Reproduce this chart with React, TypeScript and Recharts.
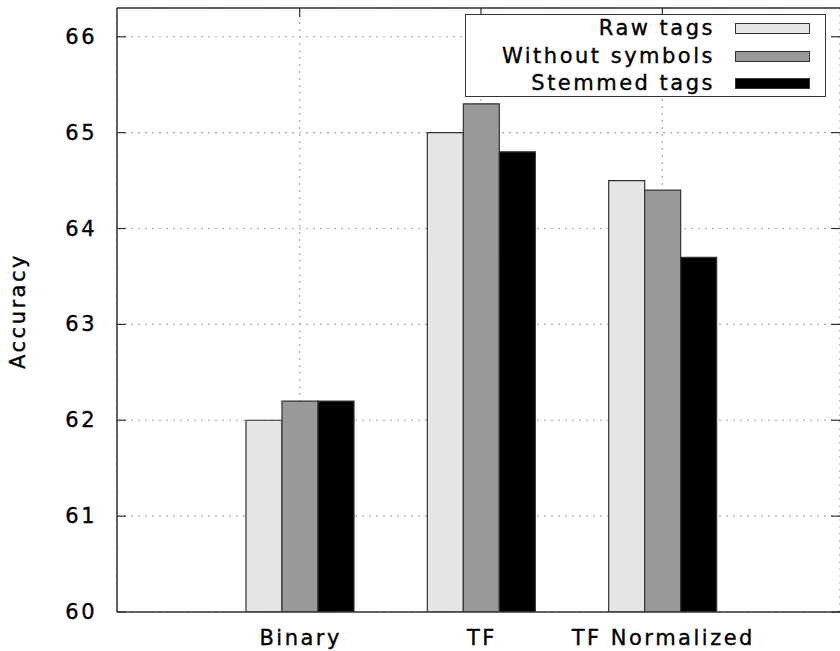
import React, { useEffect } from 'react';
import { BarChart, Bar, XAxis, YAxis, CartesianGrid, ReferenceLine } from 'recharts';

const categories = ['Binary', 'TF', 'TF Normalized'];
const rawTags = [62.0, 65.0, 64.5];
const withoutSymbols = [62.2, 65.3, 64.4];
const stemmedTags = [62.2, 64.8, 63.7];
const yTicks = [60, 61, 62, 63, 64, 65, 66];

const seriesInfo = [
  { key: 'raw', name: 'Raw tags', color: '#e5e5e5' },
  { key: 'nosym', name: 'Without symbols', color: '#999999' },
  { key: 'stem', name: 'Stemmed tags', color: '#000000' },
];

const FONT = '"DejaVu Sans", Verdana, sans-serif';
const PLOT_LEFT = 117;
const PLOT_TOP = 8;
const PLOT_RIGHT = 840;

const data = categories.map((name, i) => ({
  name,
  raw: rawTags[i],
  nosym: withoutSymbols[i],
  stem: stemmedTags[i],
}));

const textStyle = {
  fontFamily: FONT,
  fontSize: 21,
  letterSpacing: 2.5,
  fill: '#000',
  stroke: '#000',
  strokeWidth: 0.35,
};

const YTick = (props: any) => {
  const { y, payload } = props;
  return (
    <g>
      <line x1={PLOT_LEFT} x2={PLOT_LEFT + 9} y1={y} y2={y} stroke="#333" strokeWidth={1.2} />
      <line x1={PLOT_RIGHT - 9} x2={PLOT_RIGHT} y1={y} y2={y} stroke="#333" strokeWidth={1.2} />
      <text x={97} y={y + 7} textAnchor="end" style={textStyle}>
        {payload.value}
      </text>
    </g>
  );
};

const XTick = (props: any) => {
  const { x, payload } = props;
  return (
    <g>
      <line x1={x} x2={x} y1={PLOT_TOP} y2={PLOT_TOP + 9} stroke="#333" strokeWidth={1.2} />
      <text x={x + 1} y={645} textAnchor="middle" style={textStyle}>
        {payload.value}
      </text>
    </g>
  );
};

const LegendBox = () => (
  <div
    style={{
      position: 'absolute',
      left: 465,
      top: 14,
      width: 361,
      height: 83,
      border: '1.5px solid #333',
      background: '#fff',
      fontFamily: FONT,
      fontSize: 21,
      letterSpacing: 2.5,
      color: '#000',
      WebkitTextStroke: '0.35px #000',
      boxSizing: 'border-box',
    }}
  >
    {seriesInfo.map(s => (
      <div
        key={s.key}
        style={{ display: 'flex', justifyContent: 'flex-end', alignItems: 'center', height: 27.5, lineHeight: '27px' }}
      >
        <span>{s.name}</span>
        <span
          style={{
            display: 'inline-block',
            width: 73,
            height: 9,
            background: s.color,
            border: '1.5px solid #333',
            marginLeft: 20,
            marginRight: 15,
          }}
        />
      </div>
    ))}
  </div>
);

export default function App() {
  useEffect(() => {
    document.documentElement.style.overflow = 'hidden';
    document.body.style.overflow = 'hidden';
  }, []);

  return (
    <div
      style={{
        position: 'fixed',
        left: 0,
        top: 0,
        width: 840,
        height: 651,
        background: '#fff',
        overflow: 'hidden',
      }}
    >
      <BarChart
        width={840}
        height={651}
        data={data}
        margin={{ top: PLOT_TOP, right: 0, left: 0, bottom: 0 }}
        barGap={0}
        barSize={36}
      >
        <CartesianGrid stroke="#a8a8a8" strokeDasharray="2 5" strokeWidth={1.2} />
        <XAxis
          dataKey="name"
          padding={{ left: 92, right: 87 }}
          tick={<XTick />}
          tickLine={false}
          axisLine={{ stroke: '#333', strokeWidth: 1.5 }}
          height={39}
          interval={0}
        />
        <YAxis
          domain={[60, 66.3]}
          ticks={yTicks}
          width={PLOT_LEFT}
          tick={<YTick />}
          tickLine={false}
          tickSize={0}
          axisLine={{ stroke: '#333', strokeWidth: 1.5 }}
          allowDataOverflow
          label={{
            content: () => (
              <text transform="translate(25,311) rotate(-90)" textAnchor="middle" style={textStyle}>
                Accuracy
              </text>
            ),
          }}
        />
        <ReferenceLine y={66.3} stroke="#333" strokeWidth={1.5} />
        {seriesInfo.map(s => (
          <Bar
            key={s.key}
            dataKey={s.key}
            name={s.name}
            fill={s.color}
            stroke="#333"
            strokeWidth={1.2}
            isAnimationActive={false}
          />
        ))}
      </BarChart>
      <LegendBox />
    </div>
  );
}
